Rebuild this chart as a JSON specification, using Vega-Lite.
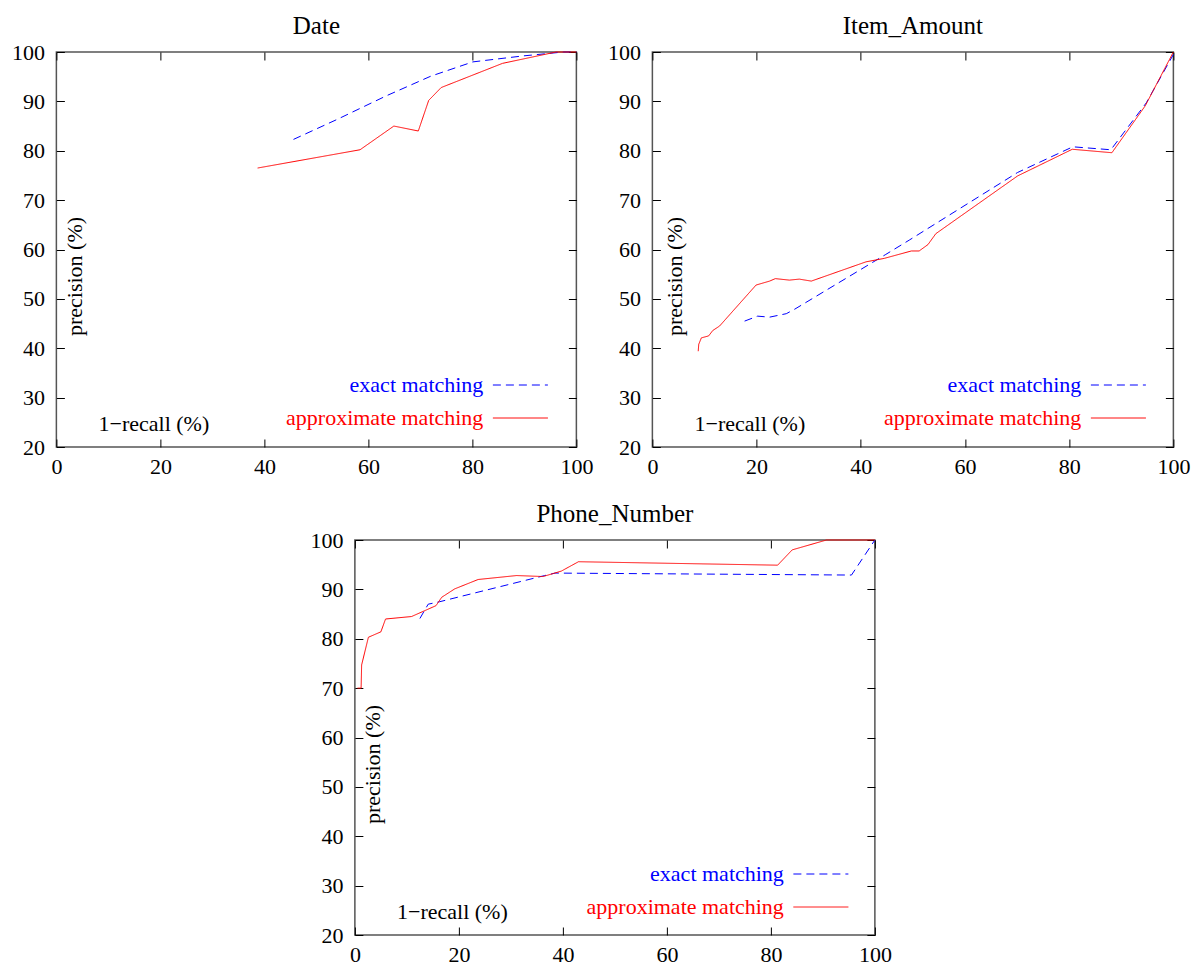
{
  "$schema": "https://vega.github.io/schema/vega-lite/v6.json",
  "padding": {"left": 10, "top": 13, "right": 5, "bottom": 0},
  "datasets": {
    "date": [
      {"recall": 45.6, "precision": 82.3, "method": "exact matching"},
      {"recall": 54.1, "precision": 86.4, "method": "exact matching"},
      {"recall": 63.4, "precision": 91.1, "method": "exact matching"},
      {"recall": 72.0, "precision": 95.1, "method": "exact matching"},
      {"recall": 80.1, "precision": 98.0, "method": "exact matching"},
      {"recall": 89.7, "precision": 99.2, "method": "exact matching"},
      {"recall": 97.5, "precision": 100, "method": "exact matching"},
      {"recall": 100, "precision": 100, "method": "exact matching"},
      {"recall": 38.7, "precision": 76.5, "method": "approximate matching"},
      {"recall": 58.4, "precision": 80.2, "method": "approximate matching"},
      {"recall": 64.9, "precision": 85.0, "method": "approximate matching"},
      {"recall": 69.6, "precision": 84.0, "method": "approximate matching"},
      {"recall": 71.6, "precision": 90.2, "method": "approximate matching"},
      {"recall": 74.0, "precision": 92.8, "method": "approximate matching"},
      {"recall": 85.8, "precision": 97.7, "method": "approximate matching"},
      {"recall": 96.1, "precision": 100, "method": "approximate matching"},
      {"recall": 100, "precision": 100, "method": "approximate matching"}
    ],
    "item": [
      {"recall": 17.7, "precision": 45.5, "method": "exact matching"},
      {"recall": 20.2, "precision": 46.5, "method": "exact matching"},
      {"recall": 22.5, "precision": 46.3, "method": "exact matching"},
      {"recall": 25.7, "precision": 47.0, "method": "exact matching"},
      {"recall": 27.3, "precision": 47.9, "method": "exact matching"},
      {"recall": 44.8, "precision": 59.0, "method": "exact matching"},
      {"recall": 49.3, "precision": 61.9, "method": "exact matching"},
      {"recall": 70.1, "precision": 75.6, "method": "exact matching"},
      {"recall": 80.7, "precision": 80.8, "method": "exact matching"},
      {"recall": 88.0, "precision": 80.2, "method": "exact matching"},
      {"recall": 94.8, "precision": 89.7, "method": "exact matching"},
      {"recall": 100, "precision": 99.5, "method": "exact matching"},
      {"recall": 8.8, "precision": 39.4, "method": "approximate matching"},
      {"recall": 8.9, "precision": 40.8, "method": "approximate matching"},
      {"recall": 9.4, "precision": 42.1, "method": "approximate matching"},
      {"recall": 10.8, "precision": 42.5, "method": "approximate matching"},
      {"recall": 11.6, "precision": 43.6, "method": "approximate matching"},
      {"recall": 12.9, "precision": 44.5, "method": "approximate matching"},
      {"recall": 19.9, "precision": 52.8, "method": "approximate matching"},
      {"recall": 22.5, "precision": 53.6, "method": "approximate matching"},
      {"recall": 23.6, "precision": 54.1, "method": "approximate matching"},
      {"recall": 26.3, "precision": 53.8, "method": "approximate matching"},
      {"recall": 28.2, "precision": 54.0, "method": "approximate matching"},
      {"recall": 30.5, "precision": 53.6, "method": "approximate matching"},
      {"recall": 41.0, "precision": 57.5, "method": "approximate matching"},
      {"recall": 44.5, "precision": 58.2, "method": "approximate matching"},
      {"recall": 49.7, "precision": 59.7, "method": "approximate matching"},
      {"recall": 51.2, "precision": 59.7, "method": "approximate matching"},
      {"recall": 52.9, "precision": 61.0, "method": "approximate matching"},
      {"recall": 54.4, "precision": 63.2, "method": "approximate matching"},
      {"recall": 70.1, "precision": 74.9, "method": "approximate matching"},
      {"recall": 80.6, "precision": 80.3, "method": "approximate matching"},
      {"recall": 88.2, "precision": 79.6, "method": "approximate matching"},
      {"recall": 94.6, "precision": 89.1, "method": "approximate matching"},
      {"recall": 100, "precision": 100, "method": "approximate matching"}
    ],
    "phone": [
      {"recall": 12.5, "precision": 84.1, "method": "exact matching"},
      {"recall": 14.1, "precision": 87.0, "method": "exact matching"},
      {"recall": 16.3, "precision": 87.5, "method": "exact matching"},
      {"recall": 36.5, "precision": 92.8, "method": "exact matching"},
      {"recall": 38.5, "precision": 93.3, "method": "exact matching"},
      {"recall": 95.5, "precision": 92.9, "method": "exact matching"},
      {"recall": 100, "precision": 100, "method": "exact matching"},
      {"recall": 0.5, "precision": 70.0, "method": "approximate matching"},
      {"recall": 1.2, "precision": 70.0, "method": "approximate matching"},
      {"recall": 1.3, "precision": 74.7, "method": "approximate matching"},
      {"recall": 2.6, "precision": 80.3, "method": "approximate matching"},
      {"recall": 5.0, "precision": 81.4, "method": "approximate matching"},
      {"recall": 5.9, "precision": 84.0, "method": "approximate matching"},
      {"recall": 10.9, "precision": 84.5, "method": "approximate matching"},
      {"recall": 15.6, "precision": 86.7, "method": "approximate matching"},
      {"recall": 16.7, "precision": 88.4, "method": "approximate matching"},
      {"recall": 19.2, "precision": 90.1, "method": "approximate matching"},
      {"recall": 23.7, "precision": 92.0, "method": "approximate matching"},
      {"recall": 31.1, "precision": 92.8, "method": "approximate matching"},
      {"recall": 36.2, "precision": 92.6, "method": "approximate matching"},
      {"recall": 39.7, "precision": 93.7, "method": "approximate matching"},
      {"recall": 43.0, "precision": 95.6, "method": "approximate matching"},
      {"recall": 81.3, "precision": 94.9, "method": "approximate matching"},
      {"recall": 84.1, "precision": 98.0, "method": "approximate matching"},
      {"recall": 90.7, "precision": 100, "method": "approximate matching"},
      {"recall": 100, "precision": 100, "method": "approximate matching"}
    ]
  },
  "vconcat": [
    {
      "hconcat": [
        {
          "title": {"text": "Date"},
          "data": {"name": "date"},
          "width": 520, "height": 395,
          "layer": [
            {
              "mark": {"type": "line", "strokeWidth": 1},
              "encoding": {
                "x": {"field": "recall", "type": "quantitative", "scale": {"domain": [0, 100]},
                  "axis": {"orient": "bottom", "values": [0, 20, 40, 60, 80, 100], "title": "1−recall (%)", "titleX": 97, "titleY": -24, "titleAlign": "center", "titleBaseline": "middle", "titleAngle": 0}},
                "y": {"field": "precision", "type": "quantitative", "scale": {"domain": [20, 100]},
                  "axis": {"orient": "left", "values": [20, 30, 40, 50, 60, 70, 80, 90, 100], "title": "precision (%)", "titleX": 18, "titleY": 224, "titleAlign": "center", "titleBaseline": "middle", "titleAngle": -90}},
                "color": {"field": "method", "type": "nominal", "scale": {"domain": ["exact matching", "approximate matching"], "range": ["#0000ff", "#ff0000"]},
                  "legend": {"orient": "none", "legendX": 453, "legendY": 322, "title": null, "symbolType": "M-5,0H5", "symbolSize": 121, "symbolStrokeWidth": 1, "labelAlign": "right", "labelOffset": -48, "rowPadding": 11, "padding": 0, "labelLimit": 0,
                    "encode": {"labels": {"update": {"fill": {"signal": "datum.label == 'exact matching' ? '#0000ff' : '#ff0000'"}}}}}},
                "strokeDash": {"field": "method", "type": "nominal", "scale": {"domain": ["exact matching", "approximate matching"], "range": [[8, 5], [1, 0]]},
                  "legend": {"orient": "none", "legendX": 453, "legendY": 322, "title": null, "symbolType": "M-5,0H5", "symbolSize": 121, "symbolStrokeWidth": 1, "labelAlign": "right", "labelOffset": -48, "rowPadding": 11, "padding": 0, "labelLimit": 0,
                    "encode": {"labels": {"update": {"fill": {"signal": "datum.label == 'exact matching' ? '#0000ff' : '#ff0000'"}}}}}}
              }
            },
            {
              "mark": {"type": "line", "opacity": 0},
              "encoding": {
                "x": {"field": "recall", "type": "quantitative", "scale": {"domain": [0, 100]}, "axis": {"orient": "top", "values": [0, 20, 40, 60, 80, 100], "labels": false, "title": null}},
                "y": {"field": "precision", "type": "quantitative", "scale": {"domain": [20, 100]}, "axis": {"orient": "right", "values": [20, 30, 40, 50, 60, 70, 80, 90, 100], "labels": false, "title": null}},
                "detail": {"field": "method"}
              }
            }
          ],
          "resolve": {"axis": {"x": "independent", "y": "independent"}}
        },
        {
          "title": {"text": "Item_Amount"},
          "data": {"name": "item"},
          "width": 521, "height": 395,
          "layer": [
            {
              "mark": {"type": "line", "strokeWidth": 1},
              "encoding": {
                "x": {"field": "recall", "type": "quantitative", "scale": {"domain": [0, 100]},
                  "axis": {"orient": "bottom", "values": [0, 20, 40, 60, 80, 100], "title": "1−recall (%)", "titleX": 97, "titleY": -24, "titleAlign": "center", "titleBaseline": "middle", "titleAngle": 0}},
                "y": {"field": "precision", "type": "quantitative", "scale": {"domain": [20, 100]},
                  "axis": {"orient": "left", "values": [20, 30, 40, 50, 60, 70, 80, 90, 100], "title": "precision (%)", "titleX": 22, "titleY": 224, "titleAlign": "center", "titleBaseline": "middle", "titleAngle": -90}},
                "color": {"field": "method", "type": "nominal", "scale": {"domain": ["exact matching", "approximate matching"], "range": ["#0000ff", "#ff0000"]},
                  "legend": {"orient": "none", "legendX": 455, "legendY": 322, "title": null, "symbolType": "M-5,0H5", "symbolSize": 121, "symbolStrokeWidth": 1, "labelAlign": "right", "labelOffset": -48, "rowPadding": 11, "padding": 0, "labelLimit": 0,
                    "encode": {"labels": {"update": {"fill": {"signal": "datum.label == 'exact matching' ? '#0000ff' : '#ff0000'"}}}}}},
                "strokeDash": {"field": "method", "type": "nominal", "scale": {"domain": ["exact matching", "approximate matching"], "range": [[8, 5], [1, 0]]},
                  "legend": {"orient": "none", "legendX": 455, "legendY": 322, "title": null, "symbolType": "M-5,0H5", "symbolSize": 121, "symbolStrokeWidth": 1, "labelAlign": "right", "labelOffset": -48, "rowPadding": 11, "padding": 0, "labelLimit": 0,
                    "encode": {"labels": {"update": {"fill": {"signal": "datum.label == 'exact matching' ? '#0000ff' : '#ff0000'"}}}}}}
              }
            },
            {
              "mark": {"type": "line", "opacity": 0},
              "encoding": {
                "x": {"field": "recall", "type": "quantitative", "scale": {"domain": [0, 100]}, "axis": {"orient": "top", "values": [0, 20, 40, 60, 80, 100], "labels": false, "title": null}},
                "y": {"field": "precision", "type": "quantitative", "scale": {"domain": [20, 100]}, "axis": {"orient": "right", "values": [20, 30, 40, 50, 60, 70, 80, 90, 100], "labels": false, "title": null}},
                "detail": {"field": "method"}
              }
            }
          ],
          "resolve": {"axis": {"x": "independent", "y": "independent"}}
        }
      ],
      "spacing": 12,
      "resolve": {"scale": {"color": "independent", "strokeDash": "independent"}, "legend": {"color": "independent", "strokeDash": "independent"}}
    },
    {
      "title": {"text": "Phone_Number"},
      "data": {"name": "phone"},
      "width": 520, "height": 395,
      "layer": [
        {
          "mark": {"type": "line", "strokeWidth": 1},
          "encoding": {
            "x": {"field": "recall", "type": "quantitative", "scale": {"domain": [0, 100]},
              "axis": {"orient": "bottom", "values": [0, 20, 40, 60, 80, 100], "title": "1−recall (%)", "titleX": 97, "titleY": -24, "titleAlign": "center", "titleBaseline": "middle", "titleAngle": 0}},
            "y": {"field": "precision", "type": "quantitative", "scale": {"domain": [20, 100]},
              "axis": {"orient": "left", "values": [20, 30, 40, 50, 60, 70, 80, 90, 100], "title": "precision (%)", "titleX": 18, "titleY": 224, "titleAlign": "center", "titleBaseline": "middle", "titleAngle": -90}},
            "color": {"field": "method", "type": "nominal", "scale": {"domain": ["exact matching", "approximate matching"], "range": ["#0000ff", "#ff0000"]},
              "legend": {"orient": "none", "legendX": 455, "legendY": 323, "title": null, "symbolType": "M-5,0H5", "symbolSize": 121, "symbolStrokeWidth": 1, "labelAlign": "right", "labelOffset": -48, "rowPadding": 11, "padding": 0, "labelLimit": 0,
                "encode": {"labels": {"update": {"fill": {"signal": "datum.label == 'exact matching' ? '#0000ff' : '#ff0000'"}}}}}},
            "strokeDash": {"field": "method", "type": "nominal", "scale": {"domain": ["exact matching", "approximate matching"], "range": [[8, 5], [1, 0]]},
              "legend": {"orient": "none", "legendX": 455, "legendY": 323, "title": null, "symbolType": "M-5,0H5", "symbolSize": 121, "symbolStrokeWidth": 1, "labelAlign": "right", "labelOffset": -48, "rowPadding": 11, "padding": 0, "labelLimit": 0,
                "encode": {"labels": {"update": {"fill": {"signal": "datum.label == 'exact matching' ? '#0000ff' : '#ff0000'"}}}}}}
          }
        },
        {
          "mark": {"type": "line", "opacity": 0},
          "encoding": {
            "x": {"field": "recall", "type": "quantitative", "scale": {"domain": [0, 100]}, "axis": {"orient": "top", "values": [0, 20, 40, 60, 80, 100], "labels": false, "title": null}},
            "y": {"field": "precision", "type": "quantitative", "scale": {"domain": [20, 100]}, "axis": {"orient": "right", "values": [20, 30, 40, 50, 60, 70, 80, 90, 100], "labels": false, "title": null}},
            "detail": {"field": "method"}
          }
        }
      ],
      "resolve": {"axis": {"x": "independent", "y": "independent"}}
    }
  ],
  "spacing": 23,
  "center": true,
  "resolve": {"scale": {"color": "independent", "strokeDash": "independent"}, "legend": {"color": "independent", "strokeDash": "independent"}},
  "config": {
    "font": "Liberation Serif",
    "background": "#ffffff",
    "view": {"stroke": "#555555", "strokeWidth": 1.5},
    "axis": {
      "grid": false, "domain": false, "tickSize": -8, "tickColor": "#000000", "tickWidth": 1,
      "labelFont": "Liberation Serif", "labelFontSize": 22, "labelColor": "#000000",
      "labelFlush": false, "labelOverlap": false,
      "titleFont": "Liberation Serif", "titleFontSize": 22, "titleFontWeight": "normal", "titleColor": "#000000"
    },
    "axisX": {"labelPadding": 17},
    "axisY": {"labelPadding": 20},
    "legend": {"labelFont": "Liberation Serif", "labelFontSize": 22},
    "title": {"font": "Liberation Serif", "fontSize": 25, "fontWeight": "normal", "color": "#000000", "offset": 2}
  }
}
